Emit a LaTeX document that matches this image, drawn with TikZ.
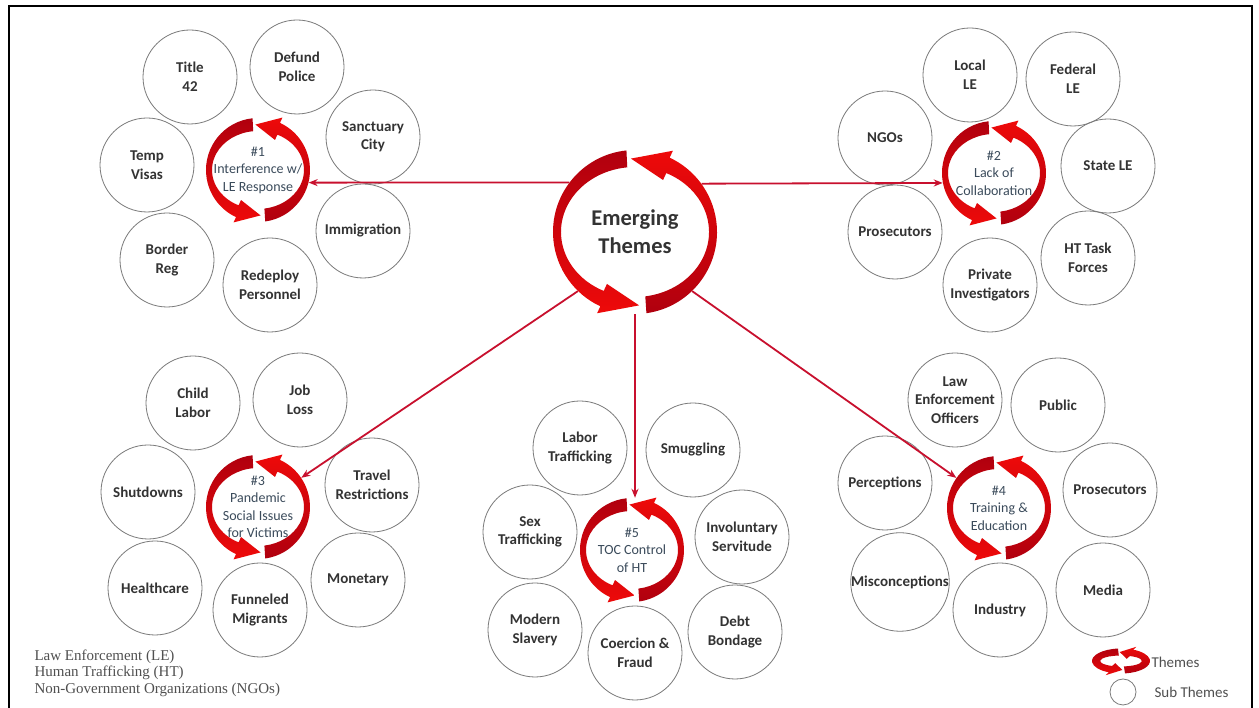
\documentclass[tikz,border=0pt]{standalone}
\usepackage{fontspec}
\setmainfont{Carlito}
\newfontfamily\legfont{Liberation Serif}
\usetikzlibrary{arrows.meta}
\definecolor{subtxt}{HTML}{333333}
\definecolor{ringtxt}{HTML}{3B4B5B}
\definecolor{subline}{HTML}{7A7A7A}
\definecolor{darkR}{HTML}{B0000E}
\definecolor{brightR}{HTML}{EE0A0A}
\definecolor{connR}{HTML}{C8102E}
\definecolor{legtxt}{HTML}{505050}
\tikzset{
  sub/.style={circle, draw=subline, line width=0.8pt, minimum size=94pt, inner sep=0pt,
    align=center, font=\fontsize{15}{18.5}\selectfont\bfseries, text=subtxt},
  ringlbl/.style={circle, inner sep=0pt, align=center, font=\fontsize{14}{17.5}\selectfont, text=ringtxt},
  conn/.style={draw=connR, line width=1.8pt, -{Stealth[length=9pt,width=7pt]}},
  pics/cyc/.style n args={3}{code={
    \pgfmathsetmacro\ra{#1-#2}
    \pgfmathsetmacro\rb{#1-#3}
    \pgfmathsetmacro\hw{0.45*#3}
    \pgfmathsetmacro\mx{(#1+\ra)/2}
    \pgfmathsetmacro\my{(#1+\rb)/2}
    % left arrow: top -> left side -> bottom
    \shade[top color=darkR, bottom color=brightR]
      (96:#1) arc[start angle=96, end angle=245, radius=#1]
      -- ({(#1+\hw)*cos(245)},{(#1+\hw)*sin(245)})
      -- ({\mx*cos(273)},{\my*sin(273)})
      -- ({(\ra-\hw)*cos(245)},{(\rb-\hw)*sin(245)})
      -- ({\ra*cos(245)},{\rb*sin(245)})
      arc[start angle=245, end angle=96, x radius=\ra, y radius=\rb]
      -- cycle;
    % right arrow: bottom -> right side -> top
    \shade[top color=brightR, bottom color=darkR]
      (-82:#1) arc[start angle=-82, end angle=65, radius=#1]
      -- ({(#1+\hw)*cos(65)},{(#1+\hw)*sin(65)})
      -- ({\mx*cos(93)},{\my*sin(93)})
      -- ({(\ra-\hw)*cos(65)},{(\rb-\hw)*sin(65)})
      -- ({\ra*cos(65)},{\rb*sin(65)})
      arc[start angle=65, end angle=-82, x radius=\ra, y radius=\rb]
      -- cycle;
  }}
}
\begin{document}
\begin{tikzpicture}[x=1pt,y=1pt]
\useasboundingbox (0,0) rectangle (1259,708);
\fill[white] (0,0) rectangle (1259,708);
% frame
\draw[line width=2.2pt, black] (9,-5) -- (9,702) -- (1252,702) -- (1252,-5);

% theme rings (nodes + ring graphics)
\node[ringlbl, minimum size=164pt, font=\fontsize{22.5}{28}\selectfont\bfseries, text=subtxt] (t0) at (635,476) {Emerging\\Themes};
\pic at (t0) {cyc={82}{8}{17}};
\node[ringlbl, minimum size=104pt] (t1) at (258,538) {\#1\\Interference w/\\LE Response};
\pic at (t1) {cyc={52}{6}{13}};
\node[ringlbl, minimum size=104pt] (t2) at (994,535) {\#2\\Lack of\\Collaboration};
\pic at (t2) {cyc={52}{6}{13}};
\node[ringlbl, minimum size=104pt] (t3) at (258,201) {\#3\\Pandemic\\Social Issues\\for Victims};
\pic at (t3) {cyc={52}{6}{13}};
\node[ringlbl, minimum size=104pt] (t4) at (999,200) {\#4\\Training \&\\Education};
\pic at (t4) {cyc={52}{6}{13}};
\node[ringlbl, minimum size=104pt] (t5) at (632,158) {\#5\\TOC Control\\of HT};
\pic at (t5) {cyc={52}{6}{13}};

% cluster 1
\node[sub] (a1) at (190,631) {Title\\42};
\node[sub] (a2) at (297,641) {Defund\\Police};
\node[sub] (a3) at (373,571) {Sanctuary\\City};
\node[sub] (a4) at (147,543) {Temp\\Visas};
\node[sub] (a5) at (363,477) {Immigration};
\node[sub] (a6) at (167,448) {Border\\Reg};
\node[sub] (a7) at (270,423) {Redeploy\\Personnel};

% cluster 2
\node[sub] (b1) at (970,633) {Local\\LE};
\node[sub] (b2) at (1073,629) {Federal\\LE};
\node[sub] (b3) at (885,570) {NGOs};
\node[sub] (b4) at (1108,542) {State LE};
\node[sub] (b5) at (895,476) {Prosecutors};
\node[sub] (b6) at (1088,450) {HT Task\\Forces};
\node[sub] (b7) at (990,423) {Private\\Investigators};

% cluster 3
\node[sub] (c1) at (193,305) {Child\\Labor};
\node[sub] (c2) at (300,308) {Job\\Loss};
\node[sub] (c3) at (148,216) {Shutdowns};
\node[sub] (c4) at (372,223) {Travel\\Restrictions};
\node[sub] (c5) at (155,120) {Healthcare};
\node[sub] (c6) at (260,98) {Funneled\\Migrants};
\node[sub] (c7) at (358,128) {Monetary};

% cluster 5
\node[sub] (e1) at (580,260) {Labor\\Trafficking};
\node[sub] (e2) at (693,258) {Smuggling};
\node[sub] (e3) at (530,176) {Sex\\Trafficking};
\node[sub] (e4) at (742,171) {Involuntary\\Servitude};
\node[sub] (e5) at (535,78) {Modern\\Slavery};
\node[sub] (e6) at (735,76) {Debt\\Bondage};
\node[sub] (e7) at (635,55) {Coercion \&\\Fraud};

% cluster 4
\node[sub] (d1) at (955,308) {Law\\Enforcement\\Officers};
\node[sub] (d2) at (1058,303) {Public};
\node[sub] (d3) at (885,225) {Perceptions};
\node[sub] (d4) at (1110,218) {Prosecutors};
\node[sub] (d5) at (900,126) {Misconceptions};
\node[sub] (d6) at (1000,98) {Industry};
\node[sub] (d7) at (1103,118) {Media};

% connectors
\draw[conn] (t0.143.3) -- (t1.-14.5);
\draw[conn] (t0.36.7) -- (t2.191);
\draw[conn] (t0.226) -- (t3);
\draw[conn] (t0.south) -- (t0.south |- t5.north);
\draw[conn] (t0.-46) -- (t4);

% legend left
\node[anchor=west, font=\legfont\fontsize{15}{16.5}\selectfont, text=legtxt, align=left] (leg) at (31,35)
  {Law Enforcement (LE)\\Human Trafficking (HT)\\Non-Government Organizations (NGOs)};

% legend right
\coordinate (lr) at (1121,47);
\pic[xscale=0.58, yscale=0.25] at (lr) {cyc={50}{14}{28}};
\node[anchor=west, font=\fontsize{15}{17}\selectfont, text=legtxt] (lt) at (1148,46) {Themes};
\node[circle, draw=subline, line width=0.8pt, minimum size=26pt, inner sep=0pt] (lc) at (1123,16) {};
\node[anchor=west, font=\fontsize{15}{17}\selectfont, text=legtxt] (ls) at (1151,16) {Sub Themes};
\end{tikzpicture}
\end{document}
